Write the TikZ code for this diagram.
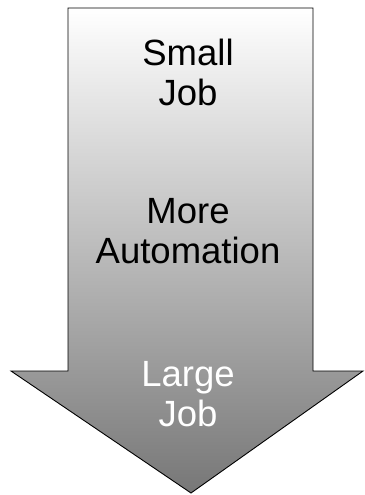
\documentclass[tikz,border=0pt]{standalone}
\usepackage{fontspec}
\setmainfont{Liberation Sans}
\definecolor{headgray}{HTML}{777777}

\begin{document}
\begin{tikzpicture}[x=1pt, y=-1pt,
        lbl/.style={align=center, font=\fontsize{36.5}{40}\selectfont, inner sep=0pt}]
        \useasboundingbox (0, 0) rectangle (364, 495);
        \draw [line width=0.9pt, top color=white, bottom color=headgray]
                (68, 8) -- (313, 8) -- (313, 371) -- (363, 371)
                -- (191, 493) -- (11, 371) -- (68, 371) -- cycle;
        \node [lbl] (small) at (188, 72)  {Small\\Job};
        \node [lbl] (more)  at (188, 231) {More\\Automation};
        \node [lbl, text=white] (large) at (188, 394) {Large\\Job};
\end{tikzpicture}
\end{document}
